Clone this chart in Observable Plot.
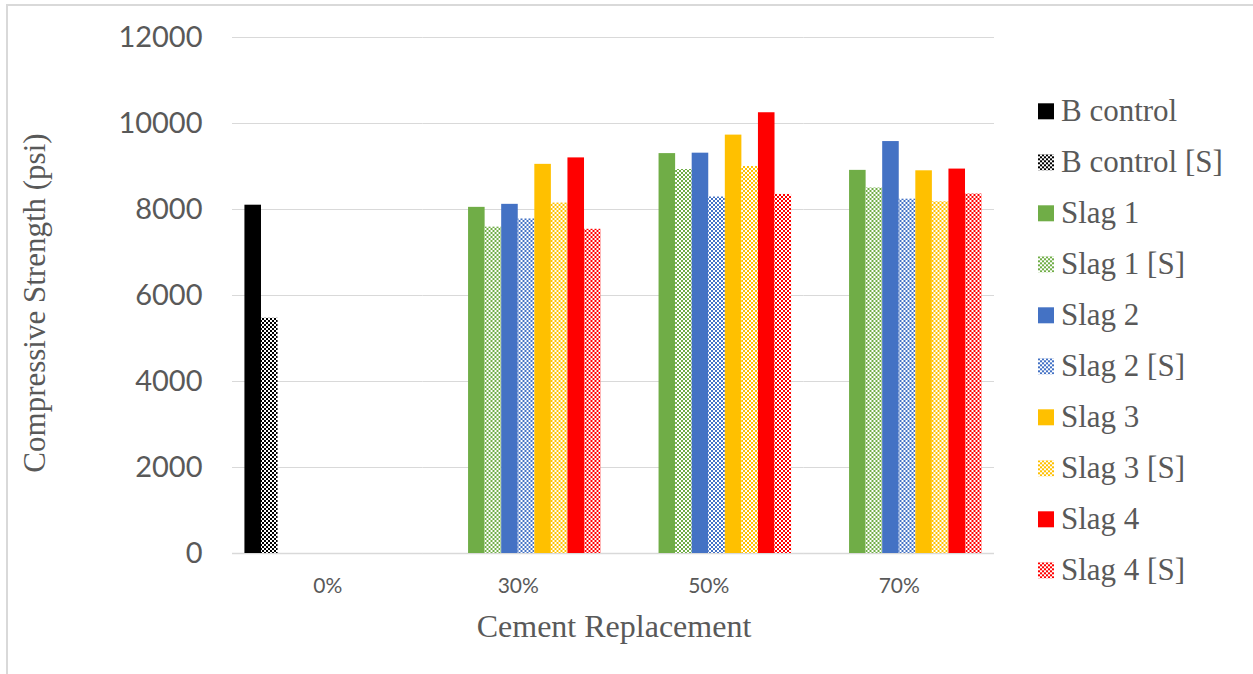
<!DOCTYPE html>
<html>
<head>
<meta charset="utf-8">
<script src="https://cdn.jsdelivr.net/npm/d3@7"></script>
<script src="https://cdn.jsdelivr.net/npm/@observablehq/plot@0.6"></script>
<style>
  body { margin: 0; background: #fff; }
  #wrap { position: relative; width: 1253px; height: 674px; overflow: hidden; background: #fff; }
  #frame { position: absolute; left: 6px; top: 4px; width: 1400px; height: 900px;
           border-left: 2px solid #d9d9d9; border-top: 2px solid #d9d9d9; box-sizing: border-box; }
  #chart { position: absolute; left: 0; top: 0; }
  #legend { position: absolute; left: 1030px; top: 0; }
</style>
</head>
<body>
<div id="wrap">
  <div id="frame"></div>
  <svg id="defs" width="0" height="0" style="position:absolute"><defs></defs></svg>
  <div id="chart"></div>
  <svg id="legend" width="223" height="674"></svg>
</div>
<script>
// Cement replacement levels (x groups)
const categories = ["0%", "30%", "50%", "70%"];

// Mixes, in cluster order
const series = [
  "B control", "B control [S]",
  "Slag 1", "Slag 1 [S]",
  "Slag 2", "Slag 2 [S]",
  "Slag 3", "Slag 3 [S]",
  "Slag 4", "Slag 4 [S]"
];

// Compressive strength (psi) per replacement level; null = not tested
const bControl  = [8100, null, null, null];
const bControlS = [5470, null, null, null];
const slag1     = [null, 8050, 9300, 8910];
const slag1S    = [null, 7590, 8930, 8500];
const slag2     = [null, 8120, 9310, 9580];
const slag2S    = [null, 7780, 8290, 8240];
const slag3     = [null, 9050, 9730, 8900];
const slag3S    = [null, 8150, 9000, 8180];
const slag4     = [null, 9200, 10250, 8940];
const slag4S    = [null, 7540, 8350, 8360];

const yTicks = [0, 2000, 4000, 6000, 8000, 10000, 12000];

// Base colour of each mix pair (plain / [S] checkered)
const baseColors = ["#000000", "#70AD47", "#4472C4", "#FFC000", "#FF0000"];

const seriesValues = [bControl, bControlS, slag1, slag1S, slag2, slag2S, slag3, slag3S, slag4, slag4S];

// Long table for Plot
const rows = [];
series.forEach((s, i) => {
  seriesValues[i].forEach((v, j) => {
    if (v != null) rows.push({category: categories[j], series: s, value: v});
  });
});

// Checkerboard patterns for the [S] mixes
const defs = d3.select("#defs defs");
baseColors.forEach((c, k) => {
  const p = defs.append("pattern")
    .attr("id", "chk-" + k)
    .attr("patternUnits", "userSpaceOnUse")
    .attr("width", 4).attr("height", 4);
  p.append("rect").attr("width", 4).attr("height", 4).attr("fill", "#fff");
  p.append("rect").attr("x", 0).attr("y", 0).attr("width", 2).attr("height", 2).attr("fill", c);
  p.append("rect").attr("x", 2).attr("y", 2).attr("width", 2).attr("height", 2).attr("fill", c);
});
const fills = series.map((s, i) => i % 2 === 0 ? baseColors[i >> 1] : `url(#chk-${i >> 1})`);

const textColor = "#595959";

const chart = Plot.plot({
  width: 1253,
  height: 674,
  marginLeft: 232,
  marginRight: 259,
  marginTop: 37,
  marginBottom: 121,
  style: {background: "transparent", overflow: "visible"},
  fx: {domain: categories, padding: 0, round: false, label: null},
  x: {domain: series, paddingInner: 0, paddingOuter: 0.75, round: false, axis: null},
  y: {domain: [0, 12000], label: null},
  color: {domain: series, range: fills},
  marks: [
    Plot.gridY(yTicks, {stroke: "#d9d9d9", strokeOpacity: 1, strokeWidth: 1}),
    Plot.ruleY([0], {stroke: "#d9d9d9", strokeWidth: 1.5}),
    Plot.barY(rows, {fx: "category", x: "series", y: "value", fill: "series"}),
    Plot.axisY({
      ticks: yTicks, tickSize: 0, tickPadding: 30, tickFormat: "d",
      fontSize: 29, fontFamily: "Lato", fill: textColor, label: null
    }),
    Plot.axisFx({
      anchor: "bottom", tickSize: 0, tickPadding: 25,
      fontSize: 21, fontFamily: "Lato", fill: textColor, label: null
    })
  ]
});
document.getElementById("chart").appendChild(chart);

// Axis titles
const svg = d3.select(chart);
svg.append("text")
  .attr("x", 614).attr("y", 637)
  .attr("text-anchor", "middle")
  .attr("font-family", "Liberation Serif")
  .attr("font-size", 32)
  .attr("fill", textColor)
  .text("Cement Replacement");
svg.append("text")
  .attr("transform", "translate(45,303) rotate(-90)")
  .attr("text-anchor", "middle")
  .attr("font-family", "Liberation Serif")
  .attr("font-size", 31)
  .attr("fill", textColor)
  .text("Compressive Strength (psi)");

// Legend (right side, one row per mix)
const legend = d3.select("#legend");
const item = legend.selectAll("g").data(series).join("g")
  .attr("transform", (d, i) => `translate(8,${111.3 + 51 * i})`);
item.append("rect")
  .attr("x", 0).attr("y", -8).attr("width", 16).attr("height", 16)
  .attr("fill", (d, i) => fills[i]);
item.append("text")
  .attr("x", 23).attr("y", 9.6)
  .attr("font-family", "Liberation Serif")
  .attr("font-size", 31)
  .attr("fill", textColor)
  .text(d => d);
</script>
</body>
</html>
